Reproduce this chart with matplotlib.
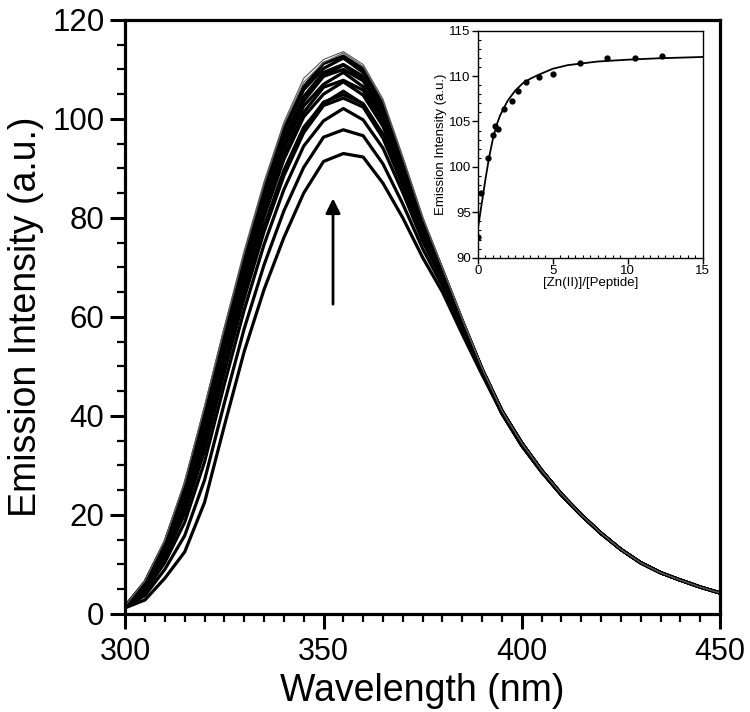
import matplotlib.pyplot as plt
from matplotlib.ticker import MultipleLocator

plt.rcParams['font.family'] = ['Liberation Sans', 'DejaVu Sans']

# emission spectra, read every 5 nm
wavelength = [300, 305, 310, 315, 320, 325, 330, 335, 340, 345, 350, 355, 360, 365, 370,
              375, 380, 385, 390, 395, 400, 405, 410, 415, 420, 425, 430, 435, 440, 445, 450]

tail_lo = [40.5, 34.0, 28.7, 24.0, 19.9, 16.2, 13.0, 10.3, 8.3, 6.8, 5.4, 4.2]
tail_hi = [41.0, 34.5, 29.0, 24.2, 20.0, 16.3, 13.0, 10.3, 8.3, 6.8, 5.4, 4.2]

em01 = [1.2, 2.8, 7.2, 12.5, 22.5, 38.0, 53.0, 65.5, 76.0, 85.0, 91.4, 93.0, 92.3, 87.0, 80.0, 72.0, 65.0, 56.5, 48.3] + tail_lo
em02 = [1.3, 3.7, 9.0, 15.8, 27.0, 42.6, 57.6, 70.5, 81.4, 90.2, 96.3, 97.8, 96.6, 90.9, 82.8, 73.8, 66.2, 57.3, 48.6] + tail_lo
em03 = [1.3, 4.4, 10.4, 18.5, 30.7, 46.4, 61.4, 74.6, 85.7, 94.5, 99.6, 102.1, 99.8, 94.1, 85.1, 75.3, 67.3, 58.0, 48.9] + tail_lo
em04 = [1.4, 4.9, 11.4, 20.2, 33.0, 48.8, 63.8, 77.2, 88.5, 97.2, 102.7, 104.2, 102.4, 96.1, 86.5, 76.3, 67.8, 58.3, 49.1] + tail_lo
em05 = [1.4, 5.1, 11.7, 20.9, 34.0, 49.8, 64.8, 78.2, 89.6, 98.3, 103.1, 105.6, 103.0, 96.9, 87.1, 76.6, 68.0, 58.4, 49.1] + tail_lo
em06 = [1.4, 5.0, 11.6, 20.7, 33.7, 49.5, 64.5, 77.9, 89.3, 98.0, 103.4, 104.9, 103.1, 96.7, 86.9, 76.5, 67.9, 58.4, 49.1] + tail_lo
em07 = [1.4, 5.5, 12.4, 22.2, 35.7, 51.6, 66.6, 80.2, 91.8, 100.4, 105.0, 107.5, 104.8, 98.5, 88.2, 77.4, 68.4, 58.6, 49.2] + tail_hi
em08 = [1.4, 5.6, 12.7, 22.7, 36.5, 52.4, 67.4, 81.0, 92.6, 101.3, 106.4, 107.8, 105.8, 99.1, 88.7, 77.7, 68.5, 58.7, 49.3] + tail_hi
em09 = [1.5, 5.8, 13.2, 23.5, 37.6, 53.5, 68.5, 82.2, 94.0, 102.6, 107.0, 109.4, 106.5, 100.1, 89.4, 78.1, 68.8, 58.9, 49.3] + tail_hi
em10 = [1.5, 6.0, 13.5, 24.2, 38.5, 54.4, 69.4, 83.2, 95.0, 103.6, 108.6, 110.0, 107.7, 100.8, 89.9, 78.5, 69.0, 59.0, 49.4] + tail_hi
em11 = [1.5, 6.1, 13.7, 24.6, 39.0, 55.0, 70.0, 83.8, 95.6, 104.2, 108.7, 110.9, 108.0, 101.3, 90.3, 78.7, 69.1, 59.1, 49.4] + tail_hi
em12 = [1.5, 6.2, 13.8, 24.8, 39.3, 55.3, 70.3, 84.1, 96.0, 104.5, 109.4, 111.0, 108.6, 101.5, 90.5, 78.8, 69.1, 59.1, 49.4] + tail_hi
em13 = [1.5, 6.4, 14.3, 25.6, 40.4, 56.4, 71.4, 85.4, 97.3, 105.9, 110.2, 112.3, 109.4, 102.5, 91.2, 79.3, 69.4, 59.2, 49.5] + tail_hi
em14 = [1.5, 6.5, 14.5, 26.0, 41.0, 57.0, 72.0, 86.0, 98.0, 106.5, 111.2, 112.7, 110.1, 103.0, 91.5, 79.5, 69.5, 59.3, 49.5] + tail_hi
em15 = [1.6, 6.7, 14.8, 26.5, 41.6, 57.5, 72.8, 86.7, 98.8, 107.4, 111.4, 113.3, 110.6, 103.6, 92.0, 80.0, 69.8, 59.5, 49.6] + tail_hi
em16 = [1.6, 6.8, 15.0, 26.8, 42.0, 58.0, 73.4, 87.3, 99.3, 108.2, 112.0, 113.6, 111.0, 104.0, 92.4, 80.3, 70.0, 59.7, 49.7] + tail_hi

thick_spectra = [em01, em02, em03, em04, em05, em06, em07, em08, em09, em10, em11, em12, em13, em14]
thin_spectra = [em15, em16]

# titration (inset)
zn_ratio = [0, 0.2, 0.67, 1.0, 1.16, 1.38, 1.78, 2.27, 2.71, 3.2, 4.11, 5.0, 6.84, 8.64, 10.49, 12.29]
peak_intensity = [92.3, 97.1, 101.0, 103.5, 104.5, 104.2, 106.4, 107.2, 108.4, 109.3, 109.9, 110.2,
                  111.4, 112.0, 112.0, 112.2]
fit_x = [0, 0.25, 0.5, 0.75, 1, 1.25, 1.5, 2, 2.5, 3, 3.5, 4, 5, 6, 7, 8, 10, 12, 15]
fit_y = [93.1, 95.8, 98.5, 101.0, 103.0, 104.6, 105.7, 107.3, 108.4, 109.2, 109.7, 110.1, 110.8,
         111.2, 111.4, 111.6, 111.8, 111.95, 112.1]

fig = plt.figure(figsize=(7.5, 7.12), dpi=100)
ax = fig.add_axes([0.167, 0.138, 0.793, 0.834])

for s in thick_spectra:
    ax.plot(wavelength, s, color='black', lw=2.3)
for s in thin_spectra:
    ax.plot(wavelength, s, color='0.35', lw=0.8)

ax.annotate('', xy=(352.4, 84.5), xytext=(352.4, 62),
            arrowprops=dict(arrowstyle='-|>', color='black', lw=2, mutation_scale=22))

ax.set_xlim(300, 450)
ax.set_ylim(0, 120)
ax.xaxis.set_major_locator(MultipleLocator(50))
ax.xaxis.set_minor_locator(MultipleLocator(5))
ax.yaxis.set_major_locator(MultipleLocator(20))
ax.yaxis.set_minor_locator(MultipleLocator(5))
ax.tick_params(which='major', direction='out', length=11, width=2.2)
ax.tick_params(which='minor', direction='out', length=6, width=1.6)
ax.tick_params(axis='x', labelsize=22, pad=6)
ax.tick_params(axis='y', labelsize=22.5, pad=4)
for sp in ax.spines.values():
    sp.set_linewidth(2.3)
ax.set_xlabel('Wavelength (nm)', fontsize=27, labelpad=4)
ax.set_ylabel('Emission Intensity (a.u.)', fontsize=27, labelpad=6)

# inset
ins = fig.add_axes([0.637, 0.638, 0.3, 0.319])
ins.plot(fit_x, fit_y, color='black', lw=1.3)
ins.plot(zn_ratio, peak_intensity, 'o', color='black', ms=3.5)
ins.set_xlim(0, 15)
ins.set_ylim(90, 115)
ins.xaxis.set_major_locator(MultipleLocator(5))
ins.xaxis.set_minor_locator(MultipleLocator(0.5))
ins.yaxis.set_major_locator(MultipleLocator(5))
ins.yaxis.set_minor_locator(MultipleLocator(1))
ins.tick_params(which='major', direction='out', length=4, width=1, labelsize=9.5, pad=1)
ins.tick_params(which='minor', direction='in', length=2.5, width=0.8)
for sp in ins.spines.values():
    sp.set_linewidth(1)
ins.set_xlabel('[Zn(II)]/[Peptide]', fontsize=9.5, labelpad=0)
ins.set_ylabel('Emission Intensity (a.u.)', fontsize=9.5, labelpad=1)

fig.savefig('out.png', dpi=100)
